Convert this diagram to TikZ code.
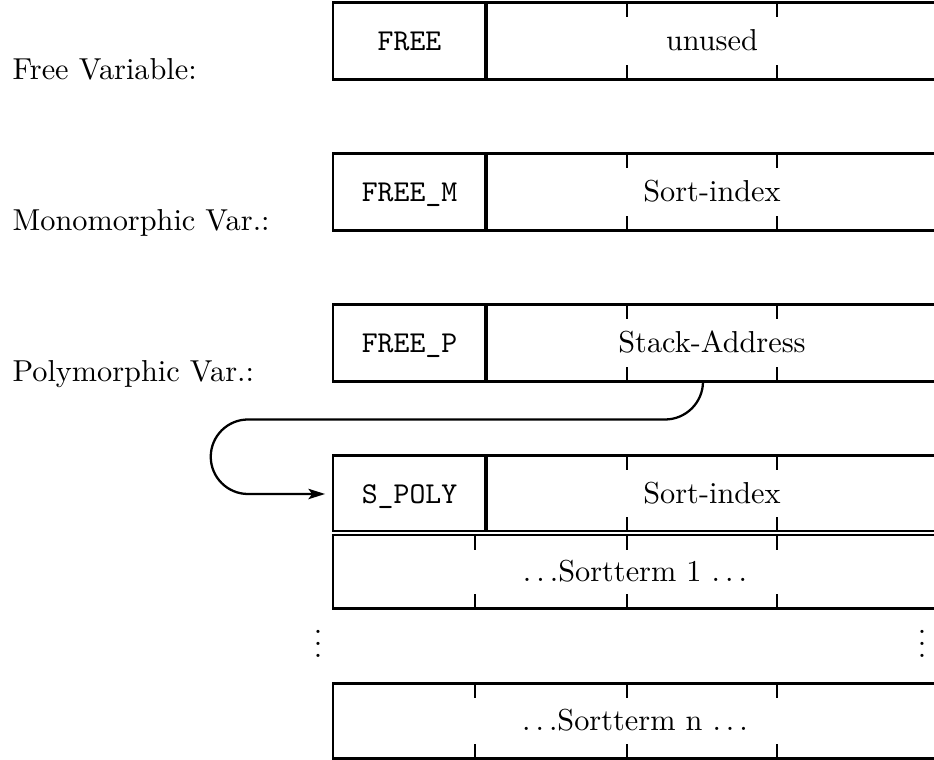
\documentclass[tikz,border=0pt]{standalone}
\usetikzlibrary{arrows.meta}
\begin{document}
\begin{tikzpicture}[x=0.33pt,y=-0.33pt,
  boxline/.style={line width=0.75pt},
  divline/.style={line width=1.4pt},
  tickline/.style={line width=0.75pt},
  lbl/.style={anchor=base west, inner sep=0pt},
  keytxt/.style={anchor=base, inner sep=0pt, font=\ttfamily},
  valtxt/.style={anchor=base, inner sep=0pt},
  ptr/.style={line width=0.75pt, -{Stealth[length=5.5pt,width=3.4pt,inset=1.2pt]}, shorten >=2.6pt}]
\useasboundingbox (0,0) rectangle (934,760);
\clip (0,0) rectangle (934,760);

% ---- the four header boxes ----
\foreach \t/\b in {2.5/79.5, 153.5/230.5, 304.5/381.5, 455.5/531}{
  \draw[boxline] (333,\t) rectangle (937,\b);
  \draw[divline] (486,\t) -- (486,\b);
  \draw[tickline] (627,\t) -- ++(0,15) (627,\b) -- ++(0,-14)
                  (777,\t) -- ++(0,15) (777,\b) -- ++(0,-14);
}
% ---- sortterm rows ----
\foreach \t/\b in {535/608.5, 683.5/758.5}{
  \draw[boxline] (333,\t) rectangle (937,\b);
  \draw[tickline] (475,\t) -- ++(0,15) (475,\b) -- ++(0,-14)
                  (627,\t) -- ++(0,15) (627,\b) -- ++(0,-14)
                  (777,\t) -- ++(0,15) (777,\b) -- ++(0,-14);
}

% ---- labels ----
\node[lbl] (l1) at (12,79.5) {Free Variable:};
\node[lbl] (l2) at (12,230.5) {Monomorphic Var.:};
\node[lbl] (l3) at (12,381.5) {Polymorphic Var.:};

% ---- cell texts ----
\node[keytxt] (k1) at (409.5,51) {FREE};
\node[valtxt] (v1) at (712,51) {unused};
\node[keytxt] (k2) at (409.5,202) {FREE\_M};
\node[valtxt] (v2) at (712,202) {Sort-index};
\node[keytxt] (k3) at (409.5,353) {FREE\_P};
\node[valtxt] (v3) at (712,353) {Stack-Address};
\node[keytxt] (k4) at (409.5,503.5) {S\_POLY};
\node[valtxt] (v4) at (712,503.5) {Sort-index};
\node[valtxt] (s1) at (635,582) {$\ldots$Sortterm 1 $\ldots$};
\node[valtxt] (sn) at (635,731) {$\ldots$Sortterm n $\ldots$};

% ---- vertical dots ----
\node (d1) at (318,635) {$\vdots$};
\node (d2) at (922,635) {$\vdots$};

% ---- pointer ----
\coordinate (sa) at (703,381.5);
\coordinate (sp) at (333,494);
\draw[ptr] (sa) arc[start angle=0,end angle=90,radius=38] -- (248,419.5)
  arc[start angle=-90,end angle=-270,radius=37.25] -- (sp);
\end{tikzpicture}
\end{document}
